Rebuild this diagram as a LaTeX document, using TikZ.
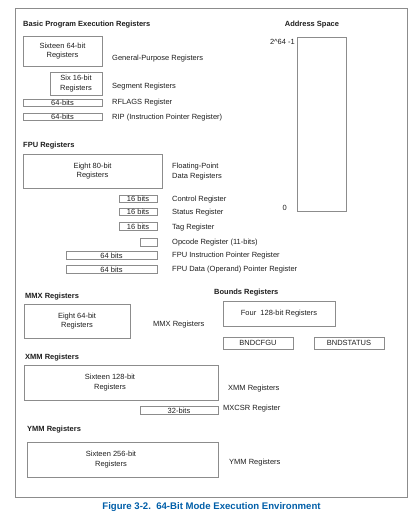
\documentclass[tikz,border=0pt]{standalone}
\usepackage{fontspec}
\setmainfont{Liberation Sans}
\definecolor{boxgray}{RGB}{140,140,140}
\definecolor{txt}{RGB}{30,30,30}
\definecolor{capblue}{RGB}{0,94,168}
\tikzset{
  reg/.style={draw=boxgray, line width=0.9pt, inner sep=0pt, align=center,
    font=\fontsize{7.5}{9.5}\selectfont, text=txt},
  lbl/.style={anchor=west, inner sep=0pt, align=left,
    font=\fontsize{7.5}{10}\selectfont, text=txt},
  ttl/.style={anchor=west, inner sep=0pt,
    font=\fontsize{7.5}{9}\selectfont\bfseries, text=txt},
}
\begin{document}
\begin{tikzpicture}[x=1pt,y=-1pt]
\useasboundingbox (0,0) rectangle (416,523);
\draw[boxgray, line width=0.9pt] (15,8) rectangle (407,497);

% Basic program execution registers
\node[ttl] (tbasic) at (23,25) {Basic Program Execution Registers};
\node[reg, minimum width=79, minimum height=30] (gpr) at (62.5,51) {Sixteen 64-bit\\Registers};
\node[lbl] (lgpr) at (112,59) {General-Purpose Registers};
\node[reg, minimum width=52, minimum height=23] (seg) at (76,83.5) {Six 16-bit\\Registers};
\node[lbl] (lseg) at (112,87) {Segment Registers};
\node[reg, minimum width=79, minimum height=7] (rflags) at (62.5,102.5) {64-bits};
\node[lbl] (lrflags) at (112,103) {RFLAGS Register};
\node[reg, minimum width=79, minimum height=7] (rip) at (62.5,117) {64-bits};
\node[lbl] (lrip) at (112,118) {RIP (Instruction Pointer Register)};

% Address space
\node[ttl, anchor=center] (taddr) at (312,25) {Address Space};
\node[reg, minimum width=49, minimum height=174] (addr) at (321.5,124) {};
\node[lbl, anchor=east] (ltop) at (295,42) {2\textasciicircum 64 -1};
\node[lbl, anchor=east] (lzero) at (287,208) {0};

% FPU
\node[ttl] (tfpu) at (23,146) {FPU Registers};
\node[reg, minimum width=139, minimum height=34] (fpud) at (92.5,171) {Eight 80-bit\\Registers};
\node[lbl] (lfpud) at (172,172) {Floating-Point\\Data Registers};
\node[reg, minimum width=38, minimum height=7.5] (ctrl) at (138,199) {16 bits};
\node[lbl] (lctrl) at (172,199.5) {Control Register};
\node[reg, minimum width=38, minimum height=7.5] (stat) at (138,212) {16 bits};
\node[lbl] (lstat) at (172,212.5) {Status Register};
\node[reg, minimum width=38, minimum height=7.5] (tag) at (138,226.5) {16 bits};
\node[lbl] (ltag) at (172,227.5) {Tag Register};
\node[reg, minimum width=17, minimum height=8] (opc) at (148.5,242) {};
\node[lbl] (lopc) at (172,242.5) {Opcode Register (11-bits)};
\node[reg, minimum width=91, minimum height=7.5] (fip) at (111.5,255.5) {64 bits};
\node[lbl] (lfip) at (172,256) {FPU Instruction Pointer Register};
\node[reg, minimum width=91, minimum height=7.5] (fdp) at (111.5,269.5) {64 bits};
\node[lbl] (lfdp) at (172,270) {FPU Data (Operand) Pointer Register};

% MMX
\node[ttl] (tmmx) at (25,297) {MMX Registers};
\node[reg, minimum width=106, minimum height=34] (mmx) at (77,321) {Eight 64-bit\\Registers};
\node[lbl] (lmmx) at (153,325) {MMX Registers};

% Bounds
\node[ttl] (tbnd) at (214,293) {Bounds Registers};
\node[reg, minimum width=112, minimum height=25] (bnd) at (279,313.5) {Four\ \ 128-bit Registers};
\node[reg, minimum width=70, minimum height=12] (bndcfgu) at (258,343) {BNDCFGU};
\node[reg, minimum width=70, minimum height=12] (bndstat) at (349,343) {BNDSTATUS};

% XMM
\node[ttl] (txmm) at (25,358) {XMM Registers};
\node[reg, minimum width=194, minimum height=35,
  label={[reg, draw=none, xshift=-11pt]center:{Sixteen 128-bit\\Registers}}] (xmm) at (121,382.5) {};
\node[lbl] (lxmm) at (228,389) {XMM Registers};
\node[reg, minimum width=78, minimum height=7.5] (mxcsr) at (179,410.5) {32-bits};
\node[lbl] (lmxcsr) at (223,409) {MXCSR Register};

% YMM
\node[ttl] (tymm) at (27,430) {YMM Registers};
\node[reg, minimum width=191, minimum height=35,
  label={[reg, draw=none, xshift=-11.5pt]center:{Sixteen 256-bit\\Registers}}] (ymm) at (122.5,459.5) {};
\node[lbl] (lymm) at (229,463) {YMM Registers};

% Caption
\node[inner sep=0pt, text=capblue, font=\fontsize{9.6}{11}\selectfont\bfseries] (cap) at (211.5,507) {Figure 3-2.\ \ 64-Bit Mode Execution Environment};
\end{tikzpicture}
\end{document}
